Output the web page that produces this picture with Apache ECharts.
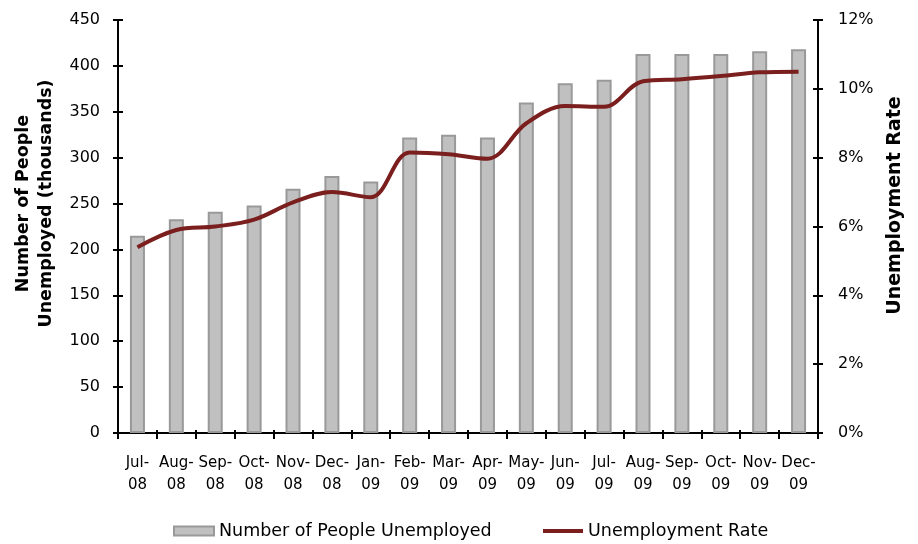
<!DOCTYPE html>
<html>
<head>
<meta charset="utf-8">
<script src="https://cdn.jsdelivr.net/npm/echarts@6/dist/echarts.min.js"></script>
<style>
  html, body { margin: 0; padding: 0; background: #fff; }
  #chart { width: 918px; height: 544px; }
</style>
</head>
<body>
<div id="chart"></div>
<script>
// Monthly labels, Jul-08 through Dec-09
const months = ['Jul-\n08', 'Aug-\n08', 'Sep-\n08', 'Oct-\n08', 'Nov-\n08', 'Dec-\n08',
  'Jan-\n09', 'Feb-\n09', 'Mar-\n09', 'Apr-\n09', 'May-\n09', 'Jun-\n09',
  'Jul-\n09', 'Aug-\n09', 'Sep-\n09', 'Oct-\n09', 'Nov-\n09', 'Dec-\n09'];

// Number of people unemployed (thousands)
const unemployed = [215, 233, 241, 248, 266, 280, 274, 322, 325, 322, 360, 381,
  385, 413, 413, 413, 416, 418];

// Unemployment rate (%)
const rate = [5.4, 5.9, 6.0, 6.2, 6.7, 7.0, 6.85, 8.15, 8.1, 7.97, 9.0, 9.5,
  9.48, 10.22, 10.28, 10.37, 10.48, 10.5];

const countTicks = [0, 50, 100, 150, 200, 250, 300, 350, 400, 450];
const rateTicks = [0, 2, 4, 6, 8, 10, 12];

const FONT = 'DejaVu Sans';
const BLACK = '#000';
const axisLine = { show: true, lineStyle: { color: BLACK, width: 2 } };
const tickOut = { show: true, length: 5, lineStyle: { color: BLACK, width: 2 } };
const tickIn = { show: true, inside: true, length: 5, lineStyle: { color: BLACK, width: 2 } };

const chart = echarts.init(document.getElementById('chart'));

chart.setOption({
  animation: false,
  textStyle: { fontFamily: FONT },
  grid: { left: 118, right: 100, top: 20, bottom: 111, containLabel: false, outerBoundsMode: 'none' },
  legend: [
    {
      data: [{ name: 'Number of People Unemployed', icon: 'rect' }],
      left: 173, top: 522, padding: 0,
      itemWidth: 40, itemHeight: 9,
      textStyle: { fontFamily: FONT, fontSize: 17.5, color: BLACK }
    },
    {
      data: [{ name: 'Unemployment Rate', icon: 'rect' }],
      left: 543, top: 522, padding: 0,
      itemWidth: 40, itemHeight: 4,
      textStyle: { fontFamily: FONT, fontSize: 17.5, color: BLACK }
    }
  ],
  xAxis: [
    {
      type: 'category',
      data: months,
      boundaryGap: true,
      axisLine: axisLine,
      axisTick: { show: true, length: 6, lineStyle: { color: BLACK, width: 2 } },
      axisLabel: { fontFamily: FONT, fontSize: 15, color: BLACK, lineHeight: 22, margin: 19, interval: 0 }
    },
    {
      // upper half of the category ticks
      type: 'category',
      data: months,
      position: 'bottom',
      boundaryGap: true,
      axisLine: { show: false },
      axisTick: { show: true, inside: true, length: 3, lineStyle: { color: BLACK, width: 2 } },
      axisLabel: { show: false }
    }
  ],
  yAxis: [
    {
      type: 'value', min: 0, max: 450, interval: 50,
      position: 'left',
      name: 'Number of People\nUnemployed (thousands)',
      nameLocation: 'middle', nameGap: 60, nameRotate: 90,
      nameTextStyle: {
        fontFamily: FONT, fontSize: 17.5, fontWeight: 'bold', color: BLACK,
        lineHeight: 23, padding: [0, 0, 0, 46]
      },
      axisLine: axisLine,
      axisTick: tickOut,
      axisLabel: {
        fontFamily: FONT, fontSize: 16, color: BLACK, margin: 18,
        formatter: v => countTicks.includes(v) ? String(v) : ''
      },
      splitLine: { show: false }
    },
    {
      type: 'value', min: 0, max: 12, interval: 2,
      position: 'right',
      name: 'Unemployment Rate',
      nameLocation: 'middle', nameGap: 68, nameRotate: 90,
      nameTextStyle: {
        fontFamily: FONT, fontSize: 19, fontWeight: 'bold', color: BLACK,
        padding: [0, 0, 0, 42]
      },
      axisLine: axisLine,
      axisTick: tickOut,
      axisLabel: {
        fontFamily: FONT, fontSize: 16, color: BLACK, margin: 20,
        formatter: v => rateTicks.includes(v) ? v + '%' : ''
      },
      splitLine: { show: false }
    },
    {
      // inner half of the left axis ticks
      type: 'value', min: 0, max: 450, interval: 50, position: 'left',
      axisLine: { show: false }, axisTick: tickIn,
      axisLabel: { show: false }, splitLine: { show: false }
    },
    {
      // inner half of the right axis ticks
      type: 'value', min: 0, max: 12, interval: 2, position: 'right',
      axisLine: { show: false }, axisTick: tickIn,
      axisLabel: { show: false }, splitLine: { show: false }
    }
  ],
  series: [
    {
      name: 'Number of People Unemployed',
      type: 'bar',
      xAxisIndex: 0, yAxisIndex: 0,
      data: unemployed,
      barWidth: 15,
      itemStyle: { color: '#C0C0C0', borderColor: '#999999', borderWidth: 2 }
    },
    {
      name: 'Unemployment Rate',
      type: 'line',
      xAxisIndex: 0, yAxisIndex: 1,
      data: rate,
      smooth: 0.35,
      symbol: 'none',
      lineStyle: { color: '#7A1E1E', width: 4 },
      itemStyle: { color: '#7A1E1E' }
    }
  ]
});
</script>
</body>
</html>
